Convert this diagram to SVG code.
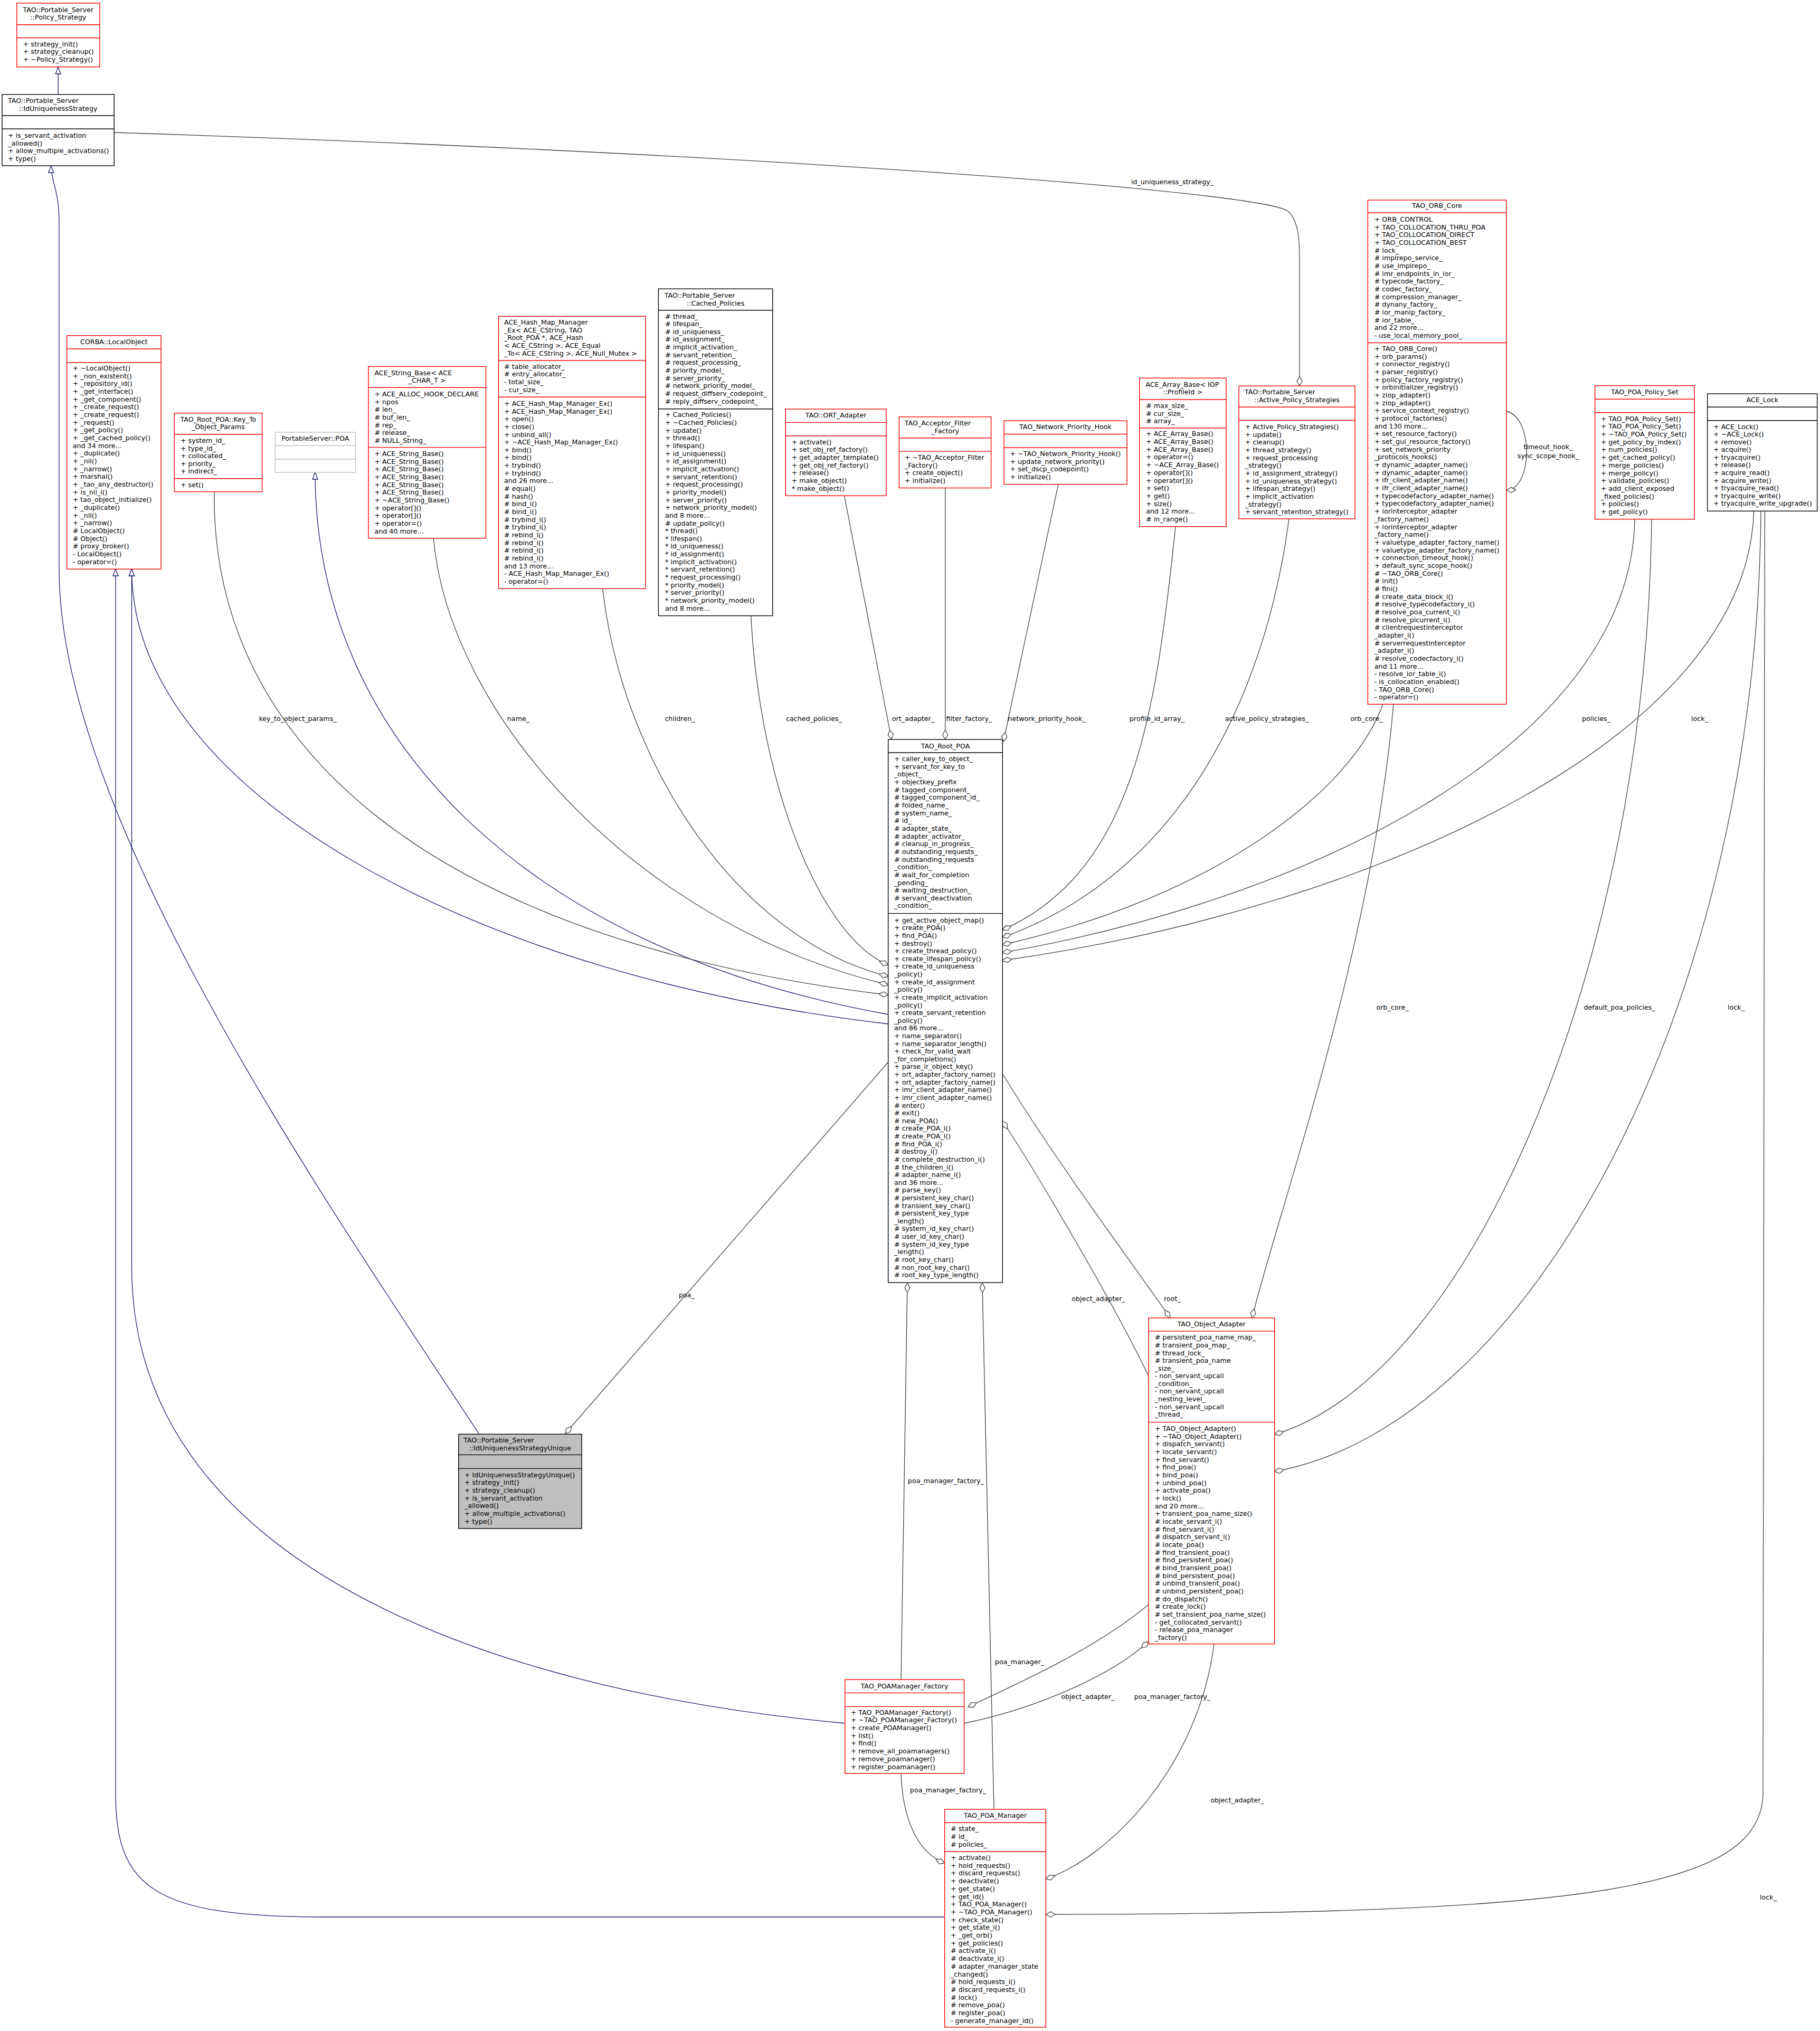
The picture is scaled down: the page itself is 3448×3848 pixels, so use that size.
<svg xmlns="http://www.w3.org/2000/svg" width="3448" height="3848" viewBox="0 0 3448 3848">
<style>
text{font-family:"DejaVu Sans","Liberation Sans",sans-serif;font-size:12.7px;fill:#000}
.m{text-anchor:middle}
.bx{fill:#fff;stroke:#ff0000;stroke-width:1.4}
.bk{stroke:#000}
.gy{stroke:#bfbfbf}
.gr{fill:#bfbfbf}
.sr{stroke:#ff0000;stroke-width:1.4;fill:none}
.sk{stroke:#000;stroke-width:1.4;fill:none}
.sg{stroke:#bfbfbf;stroke-width:1.4;fill:none}
.inh{fill:none;stroke:#191970;stroke-width:1.3;marker-end:url(#tri)}
.agg{fill:none;stroke:#404040;stroke-width:1.3;marker-end:url(#dia)}
</style>
<defs>
<marker id="tri" markerUnits="userSpaceOnUse" markerWidth="14" markerHeight="11" refX="13" refY="5" orient="auto" overflow="visible"><path d="M0,0 L13,5 L0,10 Z" fill="#fff" stroke="#191970" stroke-width="1.3"/></marker>
<marker id="dia" markerUnits="userSpaceOnUse" markerWidth="19" markerHeight="11" refX="18" refY="5" orient="auto" overflow="visible"><path d="M0,5 L9,0 L18,5 L9,10 Z" fill="#fff" stroke="#404040" stroke-width="1.3"/></marker>
</defs>

<g id="edges">
<path class="inh" d="M110.2,179 L110.2,127"/>
<path class="inh" d="M907.7,2717 C620,2280 112,1550 112,1080 L112,420 C112,360 96.7,345 96.7,314"/>
<path class="inh" d="M1683,1940 C900,1850 249.5,1500 249.5,1078"/>
<path class="inh" d="M1683,1922 C1000,1800 597,1400 597,895"/>
<path class="inh" d="M1600.7,3265 C900,3200 249.5,2950 249.5,2400 L249.5,1078"/>
<path class="inh" d="M1789.7,3632 L600,3632 C300,3630 219,3580 219,3400 L219,1078"/>

<path class="agg" d="M216.3,251 C1400,290 2380,360 2440,400 C2462,420 2462,460 2462,500 L2462,731"/>
<text class="m" x="2221" y="349">id_uniqueness_strategy_</text>
<path class="agg" d="M406,932 C400,1400 800,1780 1683,1885"/>
<text class="m" x="564" y="1366">key_to_object_params_</text>
<path class="agg" d="M821.3,1020 C850,1350 1200,1750 1683,1866"/>
<text class="m" x="982" y="1366">name_</text>
<path class="agg" d="M1141.6,1115 C1180,1450 1400,1780 1683,1850"/>
<text class="m" x="1288" y="1366">children_</text>
<path class="agg" d="M1422.7,1166.6 C1440,1500 1560,1780 1683,1828"/>
<text class="m" x="1542" y="1366">cached_policies_</text>
<path class="agg" d="M1599.6,939 L1689,1401"/>
<text class="m" x="1730" y="1366">ort_adapter_</text>
<path class="agg" d="M1790.8,924.5 L1790.8,1401"/>
<text class="m" x="1836" y="1366">filter_factory_</text>
<path class="agg" d="M2004.9,917.6 L1901,1405"/>
<text class="m" x="1983" y="1366">network_priority_hook_</text>
<path class="agg" d="M2227,998 C2190,1350 2150,1650 1899,1762"/>
<text class="m" x="2192" y="1366">profile_id_array_</text>
<path class="agg" d="M2442,983 C2400,1300 2250,1650 1899,1776"/>
<text class="m" x="2400" y="1366">active_policy_strategies_</text>
<path class="agg" d="M2620,1334 C2560,1500 2300,1700 1899,1790"/>
<text class="m" x="2589" y="1366">orb_core_</text>
<path class="agg" d="M3097,984 C3090,1400 2500,1700 1899,1805"/>
<text class="m" x="3024" y="1366">policies_</text>
<path class="agg" d="M3322.7,968 C3310,1400 2600,1720 1899,1820"/>
<text class="m" x="3220" y="1366">lock_</text>
<path class="agg" d="M2853.7,779 C2905,790 2905,925 2854,929"/>
<text class="m" x="2933" y="851">timeout_hook_</text>
<text class="m" x="2933" y="868">sync_scope_hook_</text>
<path class="agg" d="M2640,1334 C2600,1800 2420,2300 2372,2497"/>
<text class="m" x="2638" y="1913">orb_core_</text>
<path class="agg" d="M3129,984 C3120,1800 2800,2600 2414.7,2718"/>
<text class="m" x="3068" y="1913">default_poa_policies_</text>
<path class="agg" d="M3336,968 C3330,1900 2900,2700 2414.7,2788"/>
<text class="m" x="3289" y="1913">lock_</text>
<path class="agg" d="M3343.3,968 C3345,2000 3345,3000 3340,3400 C3335,3580 3000,3627 1981.3,3627"/>
<text class="m" x="3350" y="3599">lock_</text>
<path class="agg" d="M1683,2012 L1071,2716"/>
<text class="m" x="1301" y="2458">poa_</text>
<path class="agg" d="M2176,2607 C2100,2450 1950,2200 1899,2124"/>
<text class="m" x="2081" y="2465">object_adapter_</text>
<path class="agg" d="M1899,2034 C2000,2200 2150,2400 2217,2497"/>
<text class="m" x="2221" y="2465">root_</text>
<path class="agg" d="M1707,3182 L1719,2431"/>
<text class="m" x="1792" y="2810">poa_manager_factory_</text>
<path class="agg" d="M1883,3428 L1861,2431"/>
<text class="m" x="1931.5" y="3153">poa_manager_</text>
<path class="agg" d="M2176,3040 C2080,3120 1950,3180 1834,3234"/>
<text class="m" x="2061" y="3219">object_adapter_</text>
<path class="agg" d="M1826.6,3265 C1950,3240 2100,3180 2176,3110"/>
<text class="m" x="2221" y="3219">poa_manager_factory_</text>
<path class="agg" d="M2300,3115 C2270,3350 2100,3520 1981.3,3560"/>
<text class="m" x="2344" y="3415">object_adapter_</text>
<path class="agg" d="M1707,3360 C1710,3450 1740,3510 1789.7,3530"/>
<text class="m" x="1796" y="3396">poa_manager_factory_</text>
</g>

<g id="policy_strategy">
<rect class="bx" x="31.8" y="6" width="157.2" height="120.7"/>
<path class="sr" d="M31.8,46.7H189M31.8,71.7H189"/>
<text class="m" x="110.4" y="23.3">TAO::Portable_Server<tspan x="110.4" dy="13.7">::Policy_Strategy</tspan></text>
<text x="43.7" y="87.6">+ strategy_init()<tspan x="43.7" dy="14.67">+ strategy_cleanup()</tspan><tspan x="43.7" dy="14.67">+ ~Policy_Strategy()</tspan></text>
</g>

<g id="id_uniqueness_strategy">
<rect class="bx bk" x="4" y="179" width="212.3" height="135"/>
<path class="sk" d="M4,219H216.3M4,244.3H216.3"/>
<text x="15.1" y="195">TAO::Portable_Server</text>
<text class="m" x="110.2" y="209.6">::IdUniquenessStrategy</text>
<text x="15.1" y="261">+ is_servant_activation<tspan x="15.1" dy="14.5">_allowed()</tspan><tspan x="15.1" dy="14.5">+ allow_multiple_activations()</tspan><tspan x="15.1" dy="14.5">+ type()</tspan></text>
</g>

<g id="corba_localobject">
<rect class="bx" x="126.6" y="635.7" width="178.4" height="442.6"/>
<path class="sr" d="M126.6,661H305M126.6,686.7H305"/>
<text class="m" x="215.8" y="651.6">CORBA::LocalObject</text>
<text x="137.7" y="702">+ ~LocalObject()<tspan x="137.7" dy="14.67">+ _non_existent()</tspan><tspan x="137.7" dy="14.67">+ _repository_id()</tspan><tspan x="137.7" dy="14.67">+ _get_interface()</tspan><tspan x="137.7" dy="14.67">+ _get_component()</tspan><tspan x="137.7" dy="14.67">+ _create_request()</tspan><tspan x="137.7" dy="14.67">+ _create_request()</tspan><tspan x="137.7" dy="14.67">+ _request()</tspan><tspan x="137.7" dy="14.67">+ _get_policy()</tspan><tspan x="137.7" dy="14.67">+ _get_cached_policy()</tspan><tspan x="137.7" dy="14.67">and 34 more...</tspan><tspan x="137.7" dy="14.67">+ _duplicate()</tspan><tspan x="137.7" dy="14.67">+ _nil()</tspan><tspan x="137.7" dy="14.67">+ _narrow()</tspan><tspan x="137.7" dy="14.67">+ marshal()</tspan><tspan x="137.7" dy="14.67">+ _tao_any_destructor()</tspan><tspan x="137.7" dy="14.67">+ is_nil_i()</tspan><tspan x="137.7" dy="14.67">+ tao_object_initialize()</tspan><tspan x="137.7" dy="14.67">+ _duplicate()</tspan><tspan x="137.7" dy="14.67">+ _nil()</tspan><tspan x="137.7" dy="14.67">+ _narrow()</tspan><tspan x="137.7" dy="14.67"># LocalObject()</tspan><tspan x="137.7" dy="14.67"># Object()</tspan><tspan x="137.7" dy="14.67"># proxy_broker()</tspan><tspan x="137.7" dy="14.67">- LocalObject()</tspan><tspan x="137.7" dy="14.67">- operator=()</tspan></text>
</g>

<g id="key_to_object_params">
<rect class="bx" x="330.1" y="782.7" width="166.5" height="149"/>
<path class="sr" d="M330.1,822.7H496.6M330.1,906.7H496.6"/>
<text class="m" x="413.4" y="799.3">TAO_Root_POA::Key_To<tspan x="413.4" dy="13.3">_Object_Params</tspan></text>
<text x="341.9" y="839.3">+ system_id_<tspan x="341.9" dy="14.4">+ type_id_</tspan><tspan x="341.9" dy="14.4">+ collocated_</tspan><tspan x="341.9" dy="14.4">+ priority_</tspan><tspan x="341.9" dy="14.4">+ indirect_</tspan></text>
<text x="341.9" y="922.6">+ set()</text>
</g>

<g id="portableserver_poa">
<rect class="bx gy" x="521.3" y="819" width="152" height="76"/>
<path class="sg" d="M521.3,844.3H673.3M521.3,870H673.3"/>
<text class="m" x="597.3" y="835">PortableServer::POA</text>
</g>

<g id="ace_string_base">
<rect class="bx" x="698" y="694.4" width="222.5" height="325.4"/>
<path class="sr" d="M698,734.3H920.5M698,847.6H920.5"/>
<text x="709.4" y="711.4">ACE_String_Base&lt; ACE</text>
<text class="m" x="809.2" y="725.2">_CHAR_T &gt;</text>
<text x="709.4" y="751">+ ACE_ALLOC_HOOK_DECLARE<tspan x="709.4" dy="14.65">+ npos</tspan><tspan x="709.4" dy="14.65"># len_</tspan><tspan x="709.4" dy="14.65"># buf_len_</tspan><tspan x="709.4" dy="14.65"># rep_</tspan><tspan x="709.4" dy="14.65"># release_</tspan><tspan x="709.4" dy="14.65"># NULL_String_</tspan></text>
<text x="709.4" y="864">+ ACE_String_Base()<tspan x="709.4" dy="14.67">+ ACE_String_Base()</tspan><tspan x="709.4" dy="14.67">+ ACE_String_Base()</tspan><tspan x="709.4" dy="14.67">+ ACE_String_Base()</tspan><tspan x="709.4" dy="14.67">+ ACE_String_Base()</tspan><tspan x="709.4" dy="14.67">+ ACE_String_Base()</tspan><tspan x="709.4" dy="14.67">+ ~ACE_String_Base()</tspan><tspan x="709.4" dy="14.67">+ operator[]()</tspan><tspan x="709.4" dy="14.67">+ operator[]()</tspan><tspan x="709.4" dy="14.67">+ operator=()</tspan><tspan x="709.4" dy="14.67">and 40 more...</tspan></text>
</g>

<g id="ace_hash_map_manager_ex">
<rect class="bx" x="944.6" y="599.3" width="278.6" height="515.9"/>
<path class="sr" d="M944.6,683H1223.2M944.6,752.2H1223.2"/>
<text x="955" y="615">ACE_Hash_Map_Manager<tspan x="955" dy="14.72">_Ex&lt; ACE_CString, TAO</tspan><tspan x="955" dy="14.72">_Root_POA *, ACE_Hash</tspan><tspan x="955" dy="14.72">&lt; ACE_CString &gt;, ACE_Equal</tspan><tspan x="955" dy="14.72">_To&lt; ACE_CString &gt;, ACE_Null_Mutex &gt;</tspan></text>
<text x="955" y="698.7"># table_allocator_<tspan x="955" dy="14.7"># entry_allocator_</tspan><tspan x="955" dy="14.7">- total_size_</tspan><tspan x="955" dy="14.7">- cur_size_</tspan></text>
<text x="955" y="768.9">+ ACE_Hash_Map_Manager_Ex()<tspan x="955" dy="14.65">+ ACE_Hash_Map_Manager_Ex()</tspan><tspan x="955" dy="14.65">+ open()</tspan><tspan x="955" dy="14.65">+ close()</tspan><tspan x="955" dy="14.65">+ unbind_all()</tspan><tspan x="955" dy="14.65">+ ~ACE_Hash_Map_Manager_Ex()</tspan><tspan x="955" dy="14.65">+ bind()</tspan><tspan x="955" dy="14.65">+ bind()</tspan><tspan x="955" dy="14.65">+ trybind()</tspan><tspan x="955" dy="14.65">+ trybind()</tspan><tspan x="955" dy="14.65">and 26 more...</tspan><tspan x="955" dy="14.65"># equal()</tspan><tspan x="955" dy="14.65"># hash()</tspan><tspan x="955" dy="14.65"># bind_i()</tspan><tspan x="955" dy="14.65"># bind_i()</tspan><tspan x="955" dy="14.65"># trybind_i()</tspan><tspan x="955" dy="14.65"># trybind_i()</tspan><tspan x="955" dy="14.65"># rebind_i()</tspan><tspan x="955" dy="14.65"># rebind_i()</tspan><tspan x="955" dy="14.65"># rebind_i()</tspan><tspan x="955" dy="14.65"># rebind_i()</tspan><tspan x="955" dy="14.65">and 13 more...</tspan><tspan x="955" dy="14.65">- ACE_Hash_Map_Manager_Ex()</tspan><tspan x="955" dy="14.65">- operator=()</tspan></text>
</g>

<g id="cached_policies">
<rect class="bx bk" x="1247.4" y="547.3" width="216.4" height="619.3"/>
<path class="sk" d="M1247.4,587.8H1463.8M1247.4,774.7H1463.8"/>
<text x="1258.8" y="563.9">TAO::Portable_Server</text>
<text class="m" x="1355.6" y="578.6">::Cached_Policies</text>
<text x="1260" y="603.5"># thread_<tspan x="1260" dy="14.66"># lifespan_</tspan><tspan x="1260" dy="14.66"># id_uniqueness_</tspan><tspan x="1260" dy="14.66"># id_assignment_</tspan><tspan x="1260" dy="14.66"># implicit_activation_</tspan><tspan x="1260" dy="14.66"># servant_retention_</tspan><tspan x="1260" dy="14.66"># request_processing_</tspan><tspan x="1260" dy="14.66"># priority_model_</tspan><tspan x="1260" dy="14.66"># server_priority_</tspan><tspan x="1260" dy="14.66"># network_priority_model_</tspan><tspan x="1260" dy="14.66"># request_diffserv_codepoint_</tspan><tspan x="1260" dy="14.66"># reply_diffserv_codepoint_</tspan></text>
<text x="1260" y="790.4">+ Cached_Policies()<tspan x="1260" dy="14.65">+ ~Cached_Policies()</tspan><tspan x="1260" dy="14.65">+ update()</tspan><tspan x="1260" dy="14.65">+ thread()</tspan><tspan x="1260" dy="14.65">+ lifespan()</tspan><tspan x="1260" dy="14.65">+ id_uniqueness()</tspan><tspan x="1260" dy="14.65">+ id_assignment()</tspan><tspan x="1260" dy="14.65">+ implicit_activation()</tspan><tspan x="1260" dy="14.65">+ servant_retention()</tspan><tspan x="1260" dy="14.65">+ request_processing()</tspan><tspan x="1260" dy="14.65">+ priority_model()</tspan><tspan x="1260" dy="14.65">+ server_priority()</tspan><tspan x="1260" dy="14.65">+ network_priority_model()</tspan><tspan x="1260" dy="14.65">and 8 more...</tspan><tspan x="1260" dy="14.65"># update_policy()</tspan><tspan x="1260" dy="14.65">* thread()</tspan><tspan x="1260" dy="14.65">* lifespan()</tspan><tspan x="1260" dy="14.65">* id_uniqueness()</tspan><tspan x="1260" dy="14.65">* id_assignment()</tspan><tspan x="1260" dy="14.65">* implicit_activation()</tspan><tspan x="1260" dy="14.65">* servant_retention()</tspan><tspan x="1260" dy="14.65">* request_processing()</tspan><tspan x="1260" dy="14.65">* priority_model()</tspan><tspan x="1260" dy="14.65">* server_priority()</tspan><tspan x="1260" dy="14.65">* network_priority_model()</tspan><tspan x="1260" dy="14.65">and 8 more...</tspan></text>
</g>

<g id="ort_adapter">
<rect class="bx" x="1488.3" y="775.1" width="190.7" height="164.1"/>
<path class="sr" d="M1488.3,800.4H1679M1488.3,825.7H1679"/>
<text class="m" x="1583.6" y="791.3">TAO::ORT_Adapter</text>
<text x="1499.7" y="841.5">+ activate()<tspan x="1499.7" dy="14.68">+ set_obj_ref_factory()</tspan><tspan x="1499.7" dy="14.68">+ get_adapter_template()</tspan><tspan x="1499.7" dy="14.68">+ get_obj_ref_factory()</tspan><tspan x="1499.7" dy="14.68">+ release()</tspan><tspan x="1499.7" dy="14.68">+ make_object()</tspan><tspan x="1499.7" dy="14.68">* make_object()</tspan></text>
</g>

<g id="acceptor_filter_factory">
<rect class="bx" x="1703.5" y="789.8" width="174.1" height="134.7"/>
<path class="sr" d="M1703.5,829.8H1877.6M1703.5,855.1H1877.6"/>
<text x="1713.8" y="805.5">TAO_Acceptor_Filter</text>
<text class="m" x="1790.6" y="821.1">_Factory</text>
<text x="1713.8" y="870.9">+ ~TAO_Acceptor_Filter<tspan x="1713.8" dy="14.7">_Factory()</tspan><tspan x="1713.8" dy="14.7">+ create_object()</tspan><tspan x="1713.8" dy="14.7">+ initialize()</tspan></text>
</g>

<g id="network_priority_hook">
<rect class="bx" x="1902" y="797.2" width="233" height="120.4"/>
<path class="sr" d="M1902,822.5H2135M1902,848.2H2135"/>
<text class="m" x="2018.5" y="812.9">TAO_Network_Priority_Hook</text>
<text x="1913.5" y="863.9">+ ~TAO_Network_Priority_Hook()<tspan x="1913.5" dy="14.6">+ update_network_priority()</tspan><tspan x="1913.5" dy="14.6">+ set_dscp_codepoint()</tspan><tspan x="1913.5" dy="14.6">+ initialize()</tspan></text>
</g>

<g id="ace_array_base">
<rect class="bx" x="2158.7" y="716.3" width="164.3" height="281.4"/>
<path class="sr" d="M2158.7,757H2323M2158.7,811H2323"/>
<text x="2170.3" y="733">ACE_Array_Base&lt; IOP</text>
<text class="m" x="2240.8" y="747">::ProfileId &gt;</text>
<text x="2171" y="773"># max_size_<tspan x="2171" dy="14.65"># cur_size_</tspan><tspan x="2171" dy="14.65"># array_</tspan></text>
<text x="2171" y="826.3">+ ACE_Array_Base()<tspan x="2171" dy="14.7">+ ACE_Array_Base()</tspan><tspan x="2171" dy="14.7">+ ACE_Array_Base()</tspan><tspan x="2171" dy="14.7">+ operator=()</tspan><tspan x="2171" dy="14.7">+ ~ACE_Array_Base()</tspan><tspan x="2171" dy="14.7">+ operator[]()</tspan><tspan x="2171" dy="14.7">+ operator[]()</tspan><tspan x="2171" dy="14.7">+ set()</tspan><tspan x="2171" dy="14.7">+ get()</tspan><tspan x="2171" dy="14.7">+ size()</tspan><tspan x="2171" dy="14.7">and 12 more...</tspan><tspan x="2171" dy="14.7"># in_range()</tspan></text>
</g>

<g id="active_policy_strategies">
<rect class="bx" x="2347" y="731.3" width="220" height="251.7"/>
<path class="sr" d="M2347,771.3H2567M2347,796.3H2567"/>
<text x="2358" y="747">TAO::Portable_Server</text>
<text class="m" x="2457" y="761.6">::Active_Policy_Strategies</text>
<text x="2358.7" y="813">+ Active_Policy_Strategies()<tspan x="2358.7" dy="14.67">+ update()</tspan><tspan x="2358.7" dy="14.67">+ cleanup()</tspan><tspan x="2358.7" dy="14.67">+ thread_strategy()</tspan><tspan x="2358.7" dy="14.67">+ request_processing</tspan><tspan x="2358.7" dy="14.67">_strategy()</tspan><tspan x="2358.7" dy="14.67">+ id_assignment_strategy()</tspan><tspan x="2358.7" dy="14.67">+ id_uniqueness_strategy()</tspan><tspan x="2358.7" dy="14.67">+ lifespan_strategy()</tspan><tspan x="2358.7" dy="14.67">+ implicit_activation</tspan><tspan x="2358.7" dy="14.67">_strategy()</tspan><tspan x="2358.7" dy="14.67">+ servant_retention_strategy()</tspan></text>
</g>

<g id="orb_core">
<rect class="bx" x="2591.3" y="379.1" width="262.4" height="955.2"/>
<path class="sr" d="M2591.3,403.3H2853.7M2591.3,649.5H2853.7"/>
<text class="m" x="2722.5" y="394">TAO_ORB_Core</text>
<text x="2603.7" y="419.9">+ ORB_CONTROL<tspan x="2603.7" dy="14.68">+ TAO_COLLOCATION_THRU_POA</tspan><tspan x="2603.7" dy="14.68">+ TAO_COLLOCATION_DIRECT</tspan><tspan x="2603.7" dy="14.68">+ TAO_COLLOCATION_BEST</tspan><tspan x="2603.7" dy="14.68"># lock_</tspan><tspan x="2603.7" dy="14.68"># implrepo_service_</tspan><tspan x="2603.7" dy="14.68"># use_implrepo_</tspan><tspan x="2603.7" dy="14.68"># imr_endpoints_in_ior_</tspan><tspan x="2603.7" dy="14.68"># typecode_factory_</tspan><tspan x="2603.7" dy="14.68"># codec_factory_</tspan><tspan x="2603.7" dy="14.68"># compression_manager_</tspan><tspan x="2603.7" dy="14.68"># dynany_factory_</tspan><tspan x="2603.7" dy="14.68"># ior_manip_factory_</tspan><tspan x="2603.7" dy="14.68"># ior_table_</tspan><tspan x="2603.7" dy="14.68">and 22 more...</tspan><tspan x="2603.7" dy="14.68">- use_local_memory_pool_</tspan></text>
<text x="2603.7" y="664.9">+ TAO_ORB_Core()<tspan x="2603.7" dy="14.68">+ orb_params()</tspan><tspan x="2603.7" dy="14.68">+ connector_registry()</tspan><tspan x="2603.7" dy="14.68">+ parser_registry()</tspan><tspan x="2603.7" dy="14.68">+ policy_factory_registry()</tspan><tspan x="2603.7" dy="14.68">+ orbinitializer_registry()</tspan><tspan x="2603.7" dy="14.68">+ ziop_adapter()</tspan><tspan x="2603.7" dy="14.68">+ ziop_adapter()</tspan><tspan x="2603.7" dy="14.68">+ service_context_registry()</tspan><tspan x="2603.7" dy="14.68">+ protocol_factories()</tspan><tspan x="2603.7" dy="14.68">and 130 more...</tspan><tspan x="2603.7" dy="14.68">+ set_resource_factory()</tspan><tspan x="2603.7" dy="14.68">+ set_gui_resource_factory()</tspan><tspan x="2603.7" dy="14.68">+ set_network_priority</tspan><tspan x="2603.7" dy="14.68">_protocols_hooks()</tspan><tspan x="2603.7" dy="14.68">+ dynamic_adapter_name()</tspan><tspan x="2603.7" dy="14.68">+ dynamic_adapter_name()</tspan><tspan x="2603.7" dy="14.68">+ ifr_client_adapter_name()</tspan><tspan x="2603.7" dy="14.68">+ ifr_client_adapter_name()</tspan><tspan x="2603.7" dy="14.68">+ typecodefactory_adapter_name()</tspan><tspan x="2603.7" dy="14.68">+ typecodefactory_adapter_name()</tspan><tspan x="2603.7" dy="14.68">+ iorinterceptor_adapter</tspan><tspan x="2603.7" dy="14.68">_factory_name()</tspan><tspan x="2603.7" dy="14.68">+ iorinterceptor_adapter</tspan><tspan x="2603.7" dy="14.68">_factory_name()</tspan><tspan x="2603.7" dy="14.68">+ valuetype_adapter_factory_name()</tspan><tspan x="2603.7" dy="14.68">+ valuetype_adapter_factory_name()</tspan><tspan x="2603.7" dy="14.68">+ connection_timeout_hook()</tspan><tspan x="2603.7" dy="14.68">+ default_sync_scope_hook()</tspan><tspan x="2603.7" dy="14.68"># ~TAO_ORB_Core()</tspan><tspan x="2603.7" dy="14.68"># init()</tspan><tspan x="2603.7" dy="14.68"># fini()</tspan><tspan x="2603.7" dy="14.68"># create_data_block_i()</tspan><tspan x="2603.7" dy="14.68"># resolve_typecodefactory_i()</tspan><tspan x="2603.7" dy="14.68"># resolve_poa_current_i()</tspan><tspan x="2603.7" dy="14.68"># resolve_picurrent_i()</tspan><tspan x="2603.7" dy="14.68"># clientrequestinterceptor</tspan><tspan x="2603.7" dy="14.68">_adapter_i()</tspan><tspan x="2603.7" dy="14.68"># serverrequestinterceptor</tspan><tspan x="2603.7" dy="14.68">_adapter_i()</tspan><tspan x="2603.7" dy="14.68"># resolve_codecfactory_i()</tspan><tspan x="2603.7" dy="14.68">and 11 more...</tspan><tspan x="2603.7" dy="14.68">- resolve_ior_table_i()</tspan><tspan x="2603.7" dy="14.68">- is_collocation_enabled()</tspan><tspan x="2603.7" dy="14.68">- TAO_ORB_Core()</tspan><tspan x="2603.7" dy="14.68">- operator=()</tspan></text>
</g>

<g id="poa_policy_set">
<rect class="bx" x="3021.7" y="730.7" width="188.3" height="253"/>
<path class="sr" d="M3021.7,756.3H3210M3021.7,781.7H3210"/>
<text class="m" x="3115.8" y="746.6">TAO_POA_Policy_Set</text>
<text x="3032.7" y="797.6">+ TAO_POA_Policy_Set()<tspan x="3032.7" dy="14.7">+ TAO_POA_Policy_Set()</tspan><tspan x="3032.7" dy="14.7">+ ~TAO_POA_Policy_Set()</tspan><tspan x="3032.7" dy="14.7">+ get_policy_by_index()</tspan><tspan x="3032.7" dy="14.7">+ num_policies()</tspan><tspan x="3032.7" dy="14.7">+ get_cached_policy()</tspan><tspan x="3032.7" dy="14.7">+ merge_policies()</tspan><tspan x="3032.7" dy="14.7">+ merge_policy()</tspan><tspan x="3032.7" dy="14.7">+ validate_policies()</tspan><tspan x="3032.7" dy="14.7">+ add_client_exposed</tspan><tspan x="3032.7" dy="14.7">_fixed_policies()</tspan><tspan x="3032.7" dy="14.7">+ policies()</tspan><tspan x="3032.7" dy="14.7">+ get_policy()</tspan></text>
</g>

<g id="ace_lock">
<rect class="bx bk" x="3234.7" y="746" width="208" height="222.3"/>
<path class="sk" d="M3234.7,771.3H3442.7M3234.7,796.7H3442.7"/>
<text class="m" x="3338.7" y="761.6">ACE_Lock</text>
<text x="3246" y="812.6">+ ACE_Lock()<tspan x="3246" dy="14.57">+ ~ACE_Lock()</tspan><tspan x="3246" dy="14.57">+ remove()</tspan><tspan x="3246" dy="14.57">+ acquire()</tspan><tspan x="3246" dy="14.57">+ tryacquire()</tspan><tspan x="3246" dy="14.57">+ release()</tspan><tspan x="3246" dy="14.57">+ acquire_read()</tspan><tspan x="3246" dy="14.57">+ acquire_write()</tspan><tspan x="3246" dy="14.57">+ tryacquire_read()</tspan><tspan x="3246" dy="14.57">+ tryacquire_write()</tspan><tspan x="3246" dy="14.57">+ tryacquire_write_upgrade()</tspan></text>
</g>

<g id="root_poa">
<rect class="bx bk" x="1682.7" y="1401" width="216.6" height="1029"/>
<path class="sk" d="M1682.7,1426H1899.3M1682.7,1730.6H1899.3"/>
<text class="m" x="1791" y="1417.7">TAO_Root_POA</text>
<text x="1694" y="1442.1">+ caller_key_to_object_<tspan x="1694" dy="14.65">+ servant_for_key_to</tspan><tspan x="1694" dy="14.65">_object_</tspan><tspan x="1694" dy="14.65">+ objectkey_prefix</tspan><tspan x="1694" dy="14.65"># tagged_component_</tspan><tspan x="1694" dy="14.65"># tagged_component_id_</tspan><tspan x="1694" dy="14.65"># folded_name_</tspan><tspan x="1694" dy="14.65"># system_name_</tspan><tspan x="1694" dy="14.65"># id_</tspan><tspan x="1694" dy="14.65"># adapter_state_</tspan><tspan x="1694" dy="14.65"># adapter_activator_</tspan><tspan x="1694" dy="14.65"># cleanup_in_progress_</tspan><tspan x="1694" dy="14.65"># outstanding_requests_</tspan><tspan x="1694" dy="14.65"># outstanding_requests</tspan><tspan x="1694" dy="14.65">_condition_</tspan><tspan x="1694" dy="14.65"># wait_for_completion</tspan><tspan x="1694" dy="14.65">_pending_</tspan><tspan x="1694" dy="14.65"># waiting_destruction_</tspan><tspan x="1694" dy="14.65"># servant_deactivation</tspan><tspan x="1694" dy="14.65">_condition_</tspan></text>
<text x="1694" y="1747.7">+ get_active_object_map()<tspan x="1694" dy="14.62">+ create_POA()</tspan><tspan x="1694" dy="14.62">+ find_POA()</tspan><tspan x="1694" dy="14.62">+ destroy()</tspan><tspan x="1694" dy="14.62">+ create_thread_policy()</tspan><tspan x="1694" dy="14.62">+ create_lifespan_policy()</tspan><tspan x="1694" dy="14.62">+ create_id_uniqueness</tspan><tspan x="1694" dy="14.62">_policy()</tspan><tspan x="1694" dy="14.62">+ create_id_assignment</tspan><tspan x="1694" dy="14.62">_policy()</tspan><tspan x="1694" dy="14.62">+ create_implicit_activation</tspan><tspan x="1694" dy="14.62">_policy()</tspan><tspan x="1694" dy="14.62">+ create_servant_retention</tspan><tspan x="1694" dy="14.62">_policy()</tspan><tspan x="1694" dy="14.62">and 86 more...</tspan><tspan x="1694" dy="14.62">+ name_separator()</tspan><tspan x="1694" dy="14.62">+ name_separator_length()</tspan><tspan x="1694" dy="14.62">+ check_for_valid_wait</tspan><tspan x="1694" dy="14.62">_for_completions()</tspan><tspan x="1694" dy="14.62">+ parse_ir_object_key()</tspan><tspan x="1694" dy="14.62">+ ort_adapter_factory_name()</tspan><tspan x="1694" dy="14.62">+ ort_adapter_factory_name()</tspan><tspan x="1694" dy="14.62">+ imr_client_adapter_name()</tspan><tspan x="1694" dy="14.62">+ imr_client_adapter_name()</tspan><tspan x="1694" dy="14.62"># enter()</tspan><tspan x="1694" dy="14.62"># exit()</tspan><tspan x="1694" dy="14.62"># new_POA()</tspan><tspan x="1694" dy="14.62"># create_POA_i()</tspan><tspan x="1694" dy="14.62"># create_POA_i()</tspan><tspan x="1694" dy="14.62"># find_POA_i()</tspan><tspan x="1694" dy="14.62"># destroy_i()</tspan><tspan x="1694" dy="14.62"># complete_destruction_i()</tspan><tspan x="1694" dy="14.62"># the_children_i()</tspan><tspan x="1694" dy="14.62"># adapter_name_i()</tspan><tspan x="1694" dy="14.62">and 36 more...</tspan><tspan x="1694" dy="14.62"># parse_key()</tspan><tspan x="1694" dy="14.62"># persistent_key_char()</tspan><tspan x="1694" dy="14.62"># transient_key_char()</tspan><tspan x="1694" dy="14.62"># persistent_key_type</tspan><tspan x="1694" dy="14.62">_length()</tspan><tspan x="1694" dy="14.62"># system_id_key_char()</tspan><tspan x="1694" dy="14.62"># user_id_key_char()</tspan><tspan x="1694" dy="14.62"># system_id_key_type</tspan><tspan x="1694" dy="14.62">_length()</tspan><tspan x="1694" dy="14.62"># root_key_char()</tspan><tspan x="1694" dy="14.62"># non_root_key_char()</tspan><tspan x="1694" dy="14.62"># root_key_type_length()</tspan></text>
</g>

<g id="id_uniqueness_strategy_unique">
<rect class="bx bk gr" x="868.8" y="2717.3" width="233.2" height="178.7"/>
<path class="sk" d="M868.8,2756.4H1102M868.8,2782.4H1102"/>
<text x="878.3" y="2732.9">TAO::Portable_Server</text>
<text class="m" x="985.4" y="2748.1">::IdUniquenessStrategyUnique</text>
<text x="879.8" y="2798.8">+ IdUniquenessStrategyUnique()<tspan x="879.8" dy="14.67">+ strategy_init()</tspan><tspan x="879.8" dy="14.67">+ strategy_cleanup()</tspan><tspan x="879.8" dy="14.67">+ is_servant_activation</tspan><tspan x="879.8" dy="14.67">_allowed()</tspan><tspan x="879.8" dy="14.67">+ allow_multiple_activations()</tspan><tspan x="879.8" dy="14.67">+ type()</tspan></text>
</g>

<g id="object_adapter">
<rect class="bx" x="2176" y="2497" width="238.7" height="617.6"/>
<path class="sr" d="M2176,2522.1H2414.7M2176,2694.6H2414.7"/>
<text class="m" x="2295.3" y="2513.3">TAO_Object_Adapter</text>
<text x="2187.7" y="2538.4"># persistent_poa_name_map_<tspan x="2187.7" dy="14.58"># transient_poa_map_</tspan><tspan x="2187.7" dy="14.58"># thread_lock_</tspan><tspan x="2187.7" dy="14.58"># transient_poa_name</tspan><tspan x="2187.7" dy="14.58">_size_</tspan><tspan x="2187.7" dy="14.58">- non_servant_upcall</tspan><tspan x="2187.7" dy="14.58">_condition_</tspan><tspan x="2187.7" dy="14.58">- non_servant_upcall</tspan><tspan x="2187.7" dy="14.58">_nesting_level_</tspan><tspan x="2187.7" dy="14.58">- non_servant_upcall</tspan><tspan x="2187.7" dy="14.58">_thread_</tspan></text>
<text x="2187.7" y="2710.9">+ TAO_Object_Adapter()<tspan x="2187.7" dy="14.67">+ ~TAO_Object_Adapter()</tspan><tspan x="2187.7" dy="14.67">+ dispatch_servant()</tspan><tspan x="2187.7" dy="14.67">+ locate_servant()</tspan><tspan x="2187.7" dy="14.67">+ find_servant()</tspan><tspan x="2187.7" dy="14.67">+ find_poa()</tspan><tspan x="2187.7" dy="14.67">+ bind_poa()</tspan><tspan x="2187.7" dy="14.67">+ unbind_poa()</tspan><tspan x="2187.7" dy="14.67">+ activate_poa()</tspan><tspan x="2187.7" dy="14.67">+ lock()</tspan><tspan x="2187.7" dy="14.67">and 20 more...</tspan><tspan x="2187.7" dy="14.67">+ transient_poa_name_size()</tspan><tspan x="2187.7" dy="14.67"># locate_servant_i()</tspan><tspan x="2187.7" dy="14.67"># find_servant_i()</tspan><tspan x="2187.7" dy="14.67"># dispatch_servant_i()</tspan><tspan x="2187.7" dy="14.67"># locate_poa()</tspan><tspan x="2187.7" dy="14.67"># find_transient_poa()</tspan><tspan x="2187.7" dy="14.67"># find_persistent_poa()</tspan><tspan x="2187.7" dy="14.67"># bind_transient_poa()</tspan><tspan x="2187.7" dy="14.67"># bind_persistent_poa()</tspan><tspan x="2187.7" dy="14.67"># unbind_transient_poa()</tspan><tspan x="2187.7" dy="14.67"># unbind_persistent_poa()</tspan><tspan x="2187.7" dy="14.67"># do_dispatch()</tspan><tspan x="2187.7" dy="14.67"># create_lock()</tspan><tspan x="2187.7" dy="14.67"># set_transient_poa_name_size()</tspan><tspan x="2187.7" dy="14.67">- get_collocated_servant()</tspan><tspan x="2187.7" dy="14.67">- release_poa_manager</tspan><tspan x="2187.7" dy="14.67">_factory()</tspan></text>
</g>

<g id="poamanager_factory">
<rect class="bx" x="1600.7" y="3182.3" width="225.9" height="177.7"/>
<path class="sr" d="M1600.7,3207.4H1826.6M1600.7,3233.4H1826.6"/>
<text class="m" x="1713.6" y="3199.2">TAO_POAManager_Factory</text>
<text x="1611.7" y="3248.6">+ TAO_POAManager_Factory()<tspan x="1611.7" dy="14.7">+ ~TAO_POAManager_Factory()</tspan><tspan x="1611.7" dy="14.7">+ create_POAManager()</tspan><tspan x="1611.7" dy="14.7">+ list()</tspan><tspan x="1611.7" dy="14.7">+ find()</tspan><tspan x="1611.7" dy="14.7">+ remove_all_poamanagers()</tspan><tspan x="1611.7" dy="14.7">+ remove_poamanager()</tspan><tspan x="1611.7" dy="14.7">+ register_poamanager()</tspan></text>
</g>

<g id="poa_manager">
<rect class="bx" x="1789.7" y="3428" width="191.6" height="412.7"/>
<path class="sr" d="M1789.7,3453.3H1981.3M1789.7,3508H1981.3"/>
<text class="m" x="1885.5" y="3444">TAO_POA_Manager</text>
<text x="1801" y="3469"># state_<tspan x="1801" dy="15"># id_</tspan><tspan x="1801" dy="15"># policies_</tspan></text>
<text x="1801" y="3524">+ activate()<tspan x="1801" dy="14.7">+ hold_requests()</tspan><tspan x="1801" dy="14.7">+ discard_requests()</tspan><tspan x="1801" dy="14.7">+ deactivate()</tspan><tspan x="1801" dy="14.7">+ get_state()</tspan><tspan x="1801" dy="14.7">+ get_id()</tspan><tspan x="1801" dy="14.7">+ TAO_POA_Manager()</tspan><tspan x="1801" dy="14.7">+ ~TAO_POA_Manager()</tspan><tspan x="1801" dy="14.7">+ check_state()</tspan><tspan x="1801" dy="14.7">+ get_state_i()</tspan><tspan x="1801" dy="14.7">+ _get_orb()</tspan><tspan x="1801" dy="14.7">+ get_policies()</tspan><tspan x="1801" dy="14.7"># activate_i()</tspan><tspan x="1801" dy="14.7"># deactivate_i()</tspan><tspan x="1801" dy="14.7"># adapter_manager_state</tspan><tspan x="1801" dy="14.7">_changed()</tspan><tspan x="1801" dy="14.7"># hold_requests_i()</tspan><tspan x="1801" dy="14.7"># discard_requests_i()</tspan><tspan x="1801" dy="14.7"># lock()</tspan><tspan x="1801" dy="14.7"># remove_poa()</tspan><tspan x="1801" dy="14.7"># register_poa()</tspan><tspan x="1801" dy="14.7">- generate_manager_id()</tspan></text>
</g>
</svg>
